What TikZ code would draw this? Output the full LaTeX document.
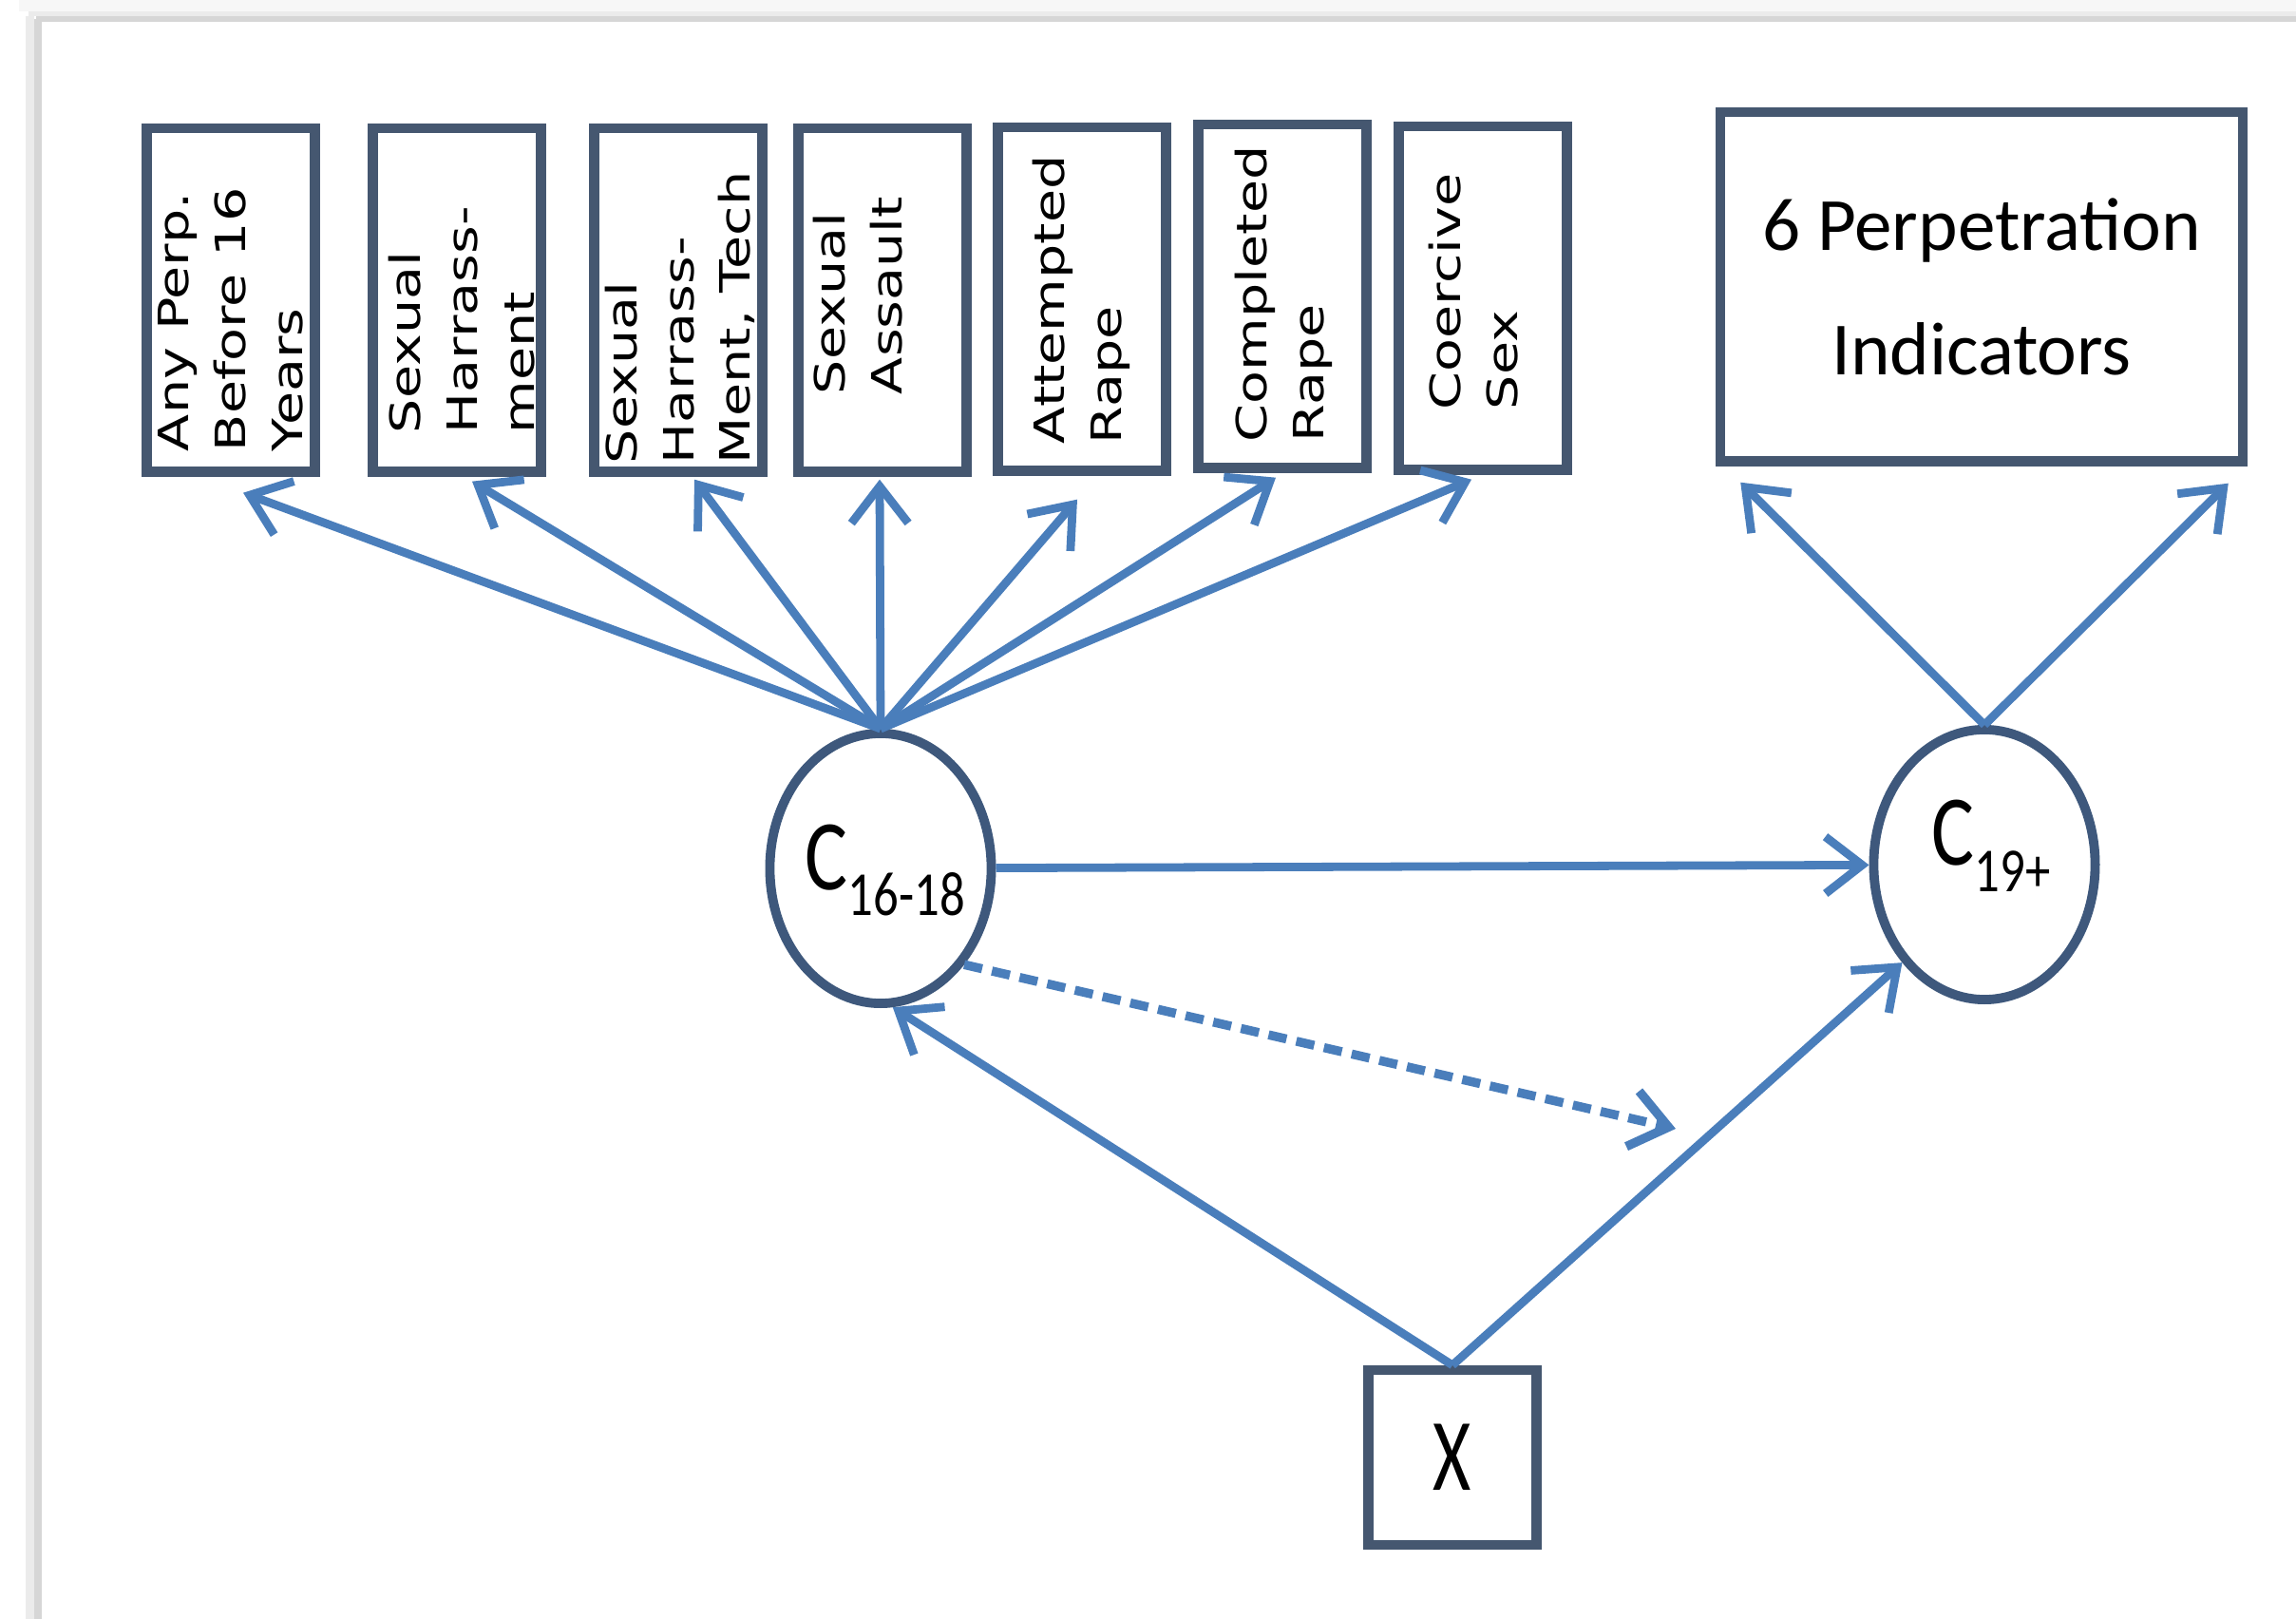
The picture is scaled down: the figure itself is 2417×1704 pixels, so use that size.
\documentclass[tikz,border=0pt]{standalone}
\usepackage{fontspec}
\usepackage{graphicx}
\setmainfont{Carlito}
\newfontfamily\vfont{DejaVu Sans}
\usetikzlibrary{arrows.meta, calc, shapes.geometric}
\definecolor{boxcol}{RGB}{69,87,112}
\definecolor{arrcol}{RGB}{74,126,187}
\definecolor{circcol}{RGB}{62,88,124}
\newcommand{\lsub}[1]{\raisebox{-0.55ex}{\fontsize{15}{15}\selectfont #1}}
\newcommand{\tall}[2]{\scalebox{1}[#1]{#2}}

\tikzset{
  obox/.style={rectangle, draw=boxcol, line width=2.9pt, fill=white, inner sep=0pt,
    minimum width=1.77cm, minimum height=3.61cm},
  vtext/.style={rotate=90, xscale=1.3, anchor=west, align=left, inner sep=0pt,
    font=\vfont\fontsize{12.5}{17}\selectfont},
  latent/.style={ellipse, draw=circcol, line width=2.8pt, fill=white, inner sep=0pt,
    minimum width=2.33cm, minimum height=2.84cm},
  ltext/.style={inner sep=0pt, font=\fontsize{24}{24}\selectfont},
  arr/.style={draw=arrcol, line width=2.5pt, -{Straight Barb[length=11pt, width=17pt]}}
}

\begin{document}
\begin{tikzpicture}[x=0.01cm, y=-0.01cm]
    % 0. 背景和边框阴影
    \useasboundingbox (0,0) rectangle (2417,1704);
    \fill[white] (0,0) rectangle (2417,1704);
    \fill[gray!6] (20,0) rectangle (2417,12);
    \fill[gray!16] (30,12) rectangle (2417,17);
    \fill[gray!32] (38,17) rectangle (2417,23);
    \fill[gray!16] (27,17) rectangle (36,1704);
    \fill[gray!32] (36,20) rectangle (44,1704);

    % 1. 上方七个指标方框(竖排文字)
    \node [obox] (b1) at (243,316) {};
    \node [obox] (b2) at (481,316) {};
    \node [obox] (b3) at (714,316) {};
    \node [obox] (b4) at (929,316) {};
    \node [obox] (b5) at (1139,315) {};
    \node [obox] (b6) at (1350,312) {};
    \node [obox] (b7) at (1561,314) {};
    \node [vtext] (t1) at (243,476) {Any Perp.\\Before 16\\Years};
    \node [vtext] (t2) at (486,457) {Sexual\\Harrass-\\ment};
    \node [vtext] (t3) at (716,489) {Sexual\\Harrass-\\Ment, Tech};
    \node [vtext] (t4) at (903,416) {Sexual\\Assault};
    \node [vtext] (t5) at (1138,468) {Attempted\\Rape};
    \node [vtext] (t6) at (1351,466) {Completed\\Rape};
    \node [vtext] (t7) at (1551,432) {Coercive\\Sex};

    % 2. 右上方框
    \node [obox, minimum width=5.49cm, minimum height=3.67cm, align=center,
       font=\fontsize{22.5}{37}\selectfont] (p) at (2086,302) {6 Perpetration\\Indicators};

    % 3. 两个潜变量(椭圆)和 X
    \node [latent] (c1) at (927,914) {};
    \node [ltext] (c1l) at (932,916) {\tall{1.25}{C\lsub{16-18}}};
    \node [latent] (c2) at (2089,910) {};
    \node [ltext] (c2l) at (2096,890) {\tall{1.25}{C\lsub{19+}}};
    \node [obox, minimum width=1.77cm, minimum height=1.84cm,
       font=\fontsize{22}{22}\selectfont] (x) at (1529,1534) {\tall{1.4}{X}};

    % 4. 箭头
    \draw [arr] (c1.north) -- ($(b1.south)+(13,17)$);
    \draw [arr] (c1.north) -- ($(b2.south)+(16,5)$);
    \draw [arr] (c1.north) -- ($(b3.south)+(17,3)$);
    \draw [arr] (c1.north) -- ($(b4.south)+(-3,3)$);
    \draw [arr] (c1.north) -- ($(b5.south)+(-5,25)$);
    \draw [arr] (c1.north) -- ($(b6.south)+(-7,5)$);
    \draw [arr] (c1.north) -- ($(b7.south)+(-12,5)$);
    \draw [arr] (c2.north) -- ($(p.south west)+(26,17)$);
    \draw [arr] (c2.north) -- ($(p.south east)+(-20,18)$);
    \draw [arr] (c1) -- (c2);
    \coordinate (dend) at (1764,1188);
    \draw [arr, line width=2.7pt, dash pattern=on 5.5pt off 3pt] (c1.-49) -- (dend); % 虚线箭头
    \draw [arr] (x.north) -- (c1.-85);
    \draw [arr] (x.north) -- (c2.230);
\end{tikzpicture}
\end{document}
